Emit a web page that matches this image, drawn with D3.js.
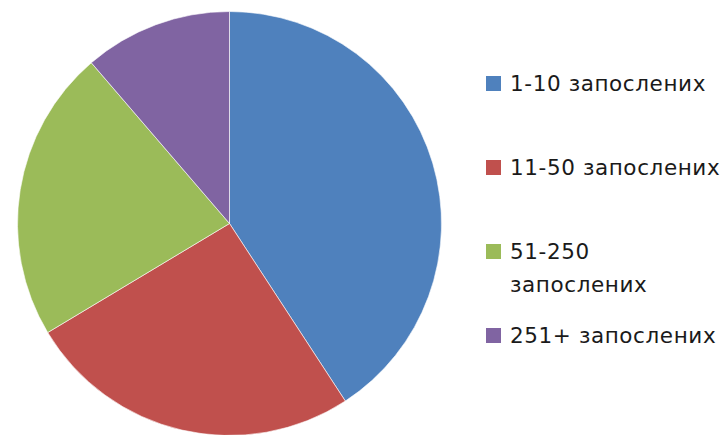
<!DOCTYPE html>
<html>
<head>
<meta charset="utf-8">
<script src="https://cdn.jsdelivr.net/npm/d3@7"></script>
<style>
  body { margin: 0; background: #fff; }
  text { font-family: "DejaVu Sans", "Liberation Sans", sans-serif; fill: #1a1a1a; }
</style>
</head>
<body>
<div id="chart"></div>
<script>
// data (share of firms, %)
var categories = ["1-10 запослених", "11-50 запослених", "51-250 запослених", "251+ запослених"];
var shares = [40.8, 25.6, 22.3, 11.3];
var colors = ["#4F81BD", "#C0504D", "#9BBB59", "#8064A2"];

var width = 722, height = 435;
var cx = 229.5, cy = 223.5, radius = 212;

var svg = d3.select("#chart")
    .append("svg")
        .attr("width", width)
        .attr("height", height);

var data = categories.map(function(c, i){ return { name: c, value: shares[i] }; });

var pie = d3.pie()
    .sort(null)
    .value(function(d){ return d.value; });

var arc = d3.arc().innerRadius(0).outerRadius(radius);

var color = d3.scaleOrdinal().domain(categories).range(colors);

var g = svg.append("g")
    .attr("transform", "translate(" + cx + "," + cy + ")");

g.selectAll("path")
    .data(pie(data))
    .enter()
    .append("path")
        .attr("d", arc)
        .attr("fill", function(d){ return color(d.data.name); })
        .attr("stroke", "#ffffff")
        .attr("stroke-width", 0.6);

// Legend - third label wraps to two lines
var legendRows = [
    { name: categories[0], lines: ["1-10 запослених"], y: 91 },
    { name: categories[1], lines: ["11-50 запослених"], y: 175 },
    { name: categories[2], lines: ["51-250", "запослених"], y: 259 },
    { name: categories[3], lines: ["251+ запослених"], y: 343 }
];

var legend = svg.append("g").attr("class", "legend");

var items = legend.selectAll("g")
    .data(legendRows)
    .enter()
    .append("g");

items.append("rect")
    .attr("x", 486)
    .attr("y", function(d){ return d.y - 15; })
    .attr("width", 15)
    .attr("height", 15)
    .attr("fill", function(d){ return color(d.name); });

items.each(function(d){
    var t = d3.select(this).append("text")
        .attr("x", 510)
        .attr("y", d.y)
        .attr("font-size", "21.5px")
        .attr("letter-spacing", "0.6px");
    d.lines.forEach(function(line, i){
        t.append("tspan")
            .attr("x", 510)
            .attr("dy", i === 0 ? 0 : 33)
            .text(line);
    });
});
</script>
</body>
</html>
